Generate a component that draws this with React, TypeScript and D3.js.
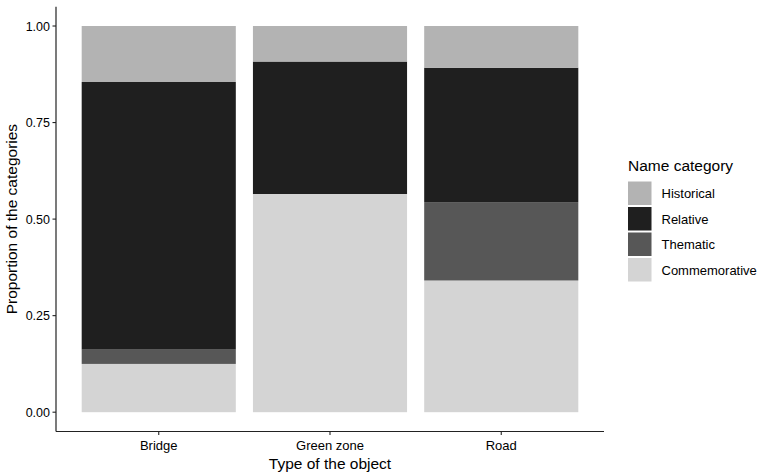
import React from "react";
import * as d3 from "d3";

const categories = ["Bridge", "Green zone", "Road"];
const seriesNames = ["Commemorative", "Thematic", "Relative", "Historical"];
const commemorative = [0.125, 0.565, 0.341];
const thematic = [0.037, 0.0, 0.203];
const relative = [0.693, 0.343, 0.348];
const historical = [0.145, 0.092, 0.108];
const yTicks = [0, 0.25, 0.5, 0.75, 1.0];
const legendOrder = ["Historical", "Relative", "Thematic", "Commemorative"];

const colors: Record<string, string> = {
  Historical: "#b3b3b3",
  Relative: "#1f1f1f",
  Thematic: "#575757",
  Commemorative: "#d4d4d4",
};

const W = 764;
const H = 473;
const FONT = "'Liberation Sans', Arial, Helvetica, sans-serif";

export default function App() {
  const left = 56;
  const right = 604;
  const top = 6.7;
  const bottom = 431.5;

  const rows = categories.map((c, i) => ({
    cat: c,
    Commemorative: commemorative[i],
    Thematic: thematic[i],
    Relative: relative[i],
    Historical: historical[i],
  }));
  const stack = d3.stack<any>().keys(seriesNames)(rows);

  const xl = d3.scaleLinear().domain([0.4, 3.6]).range([left, right]);
  const y = d3.scaleLinear().domain([-0.05, 1.05]).range([bottom, top]);
  const half = xl(1.45) - xl(1);

  return (
    <svg width={W} height={H} style={{ position: "absolute", left: 0, top: 0, background: "#fff" }}>
      <rect x={0} y={0} width={W} height={H} fill="#fff" />
      {stack.map((s) =>
        s.map((d, i) => {
          const cx = xl(i + 1);
          const y0 = y(d[0]);
          const y1 = y(d[1]);
          if (y0 - y1 <= 0) return null;
          return (
            <rect
              key={s.key + i}
              x={cx - half}
              y={y1}
              width={half * 2}
              height={y0 - y1}
              fill={colors[s.key]}
            />
          );
        })
      )}
      <line x1={left} x2={left} y1={top} y2={bottom} stroke="#222" strokeWidth={1.2} />
      <line x1={left} x2={right} y1={bottom} y2={bottom} stroke="#222" strokeWidth={1.2} />
      {yTicks.map((t) => (
        <g key={t}>
          <line x1={left - 3.5} x2={left} y1={y(t)} y2={y(t)} stroke="#222" strokeWidth={1.1} />
          <text x={left - 6} y={y(t) + 4.5} textAnchor="end" fontFamily={FONT} fontSize={12.5} fill="#000">
            {d3.format(".2f")(t)}
          </text>
        </g>
      ))}
      {categories.map((c, i) => (
        <g key={c}>
          <line x1={xl(i + 1)} x2={xl(i + 1)} y1={bottom} y2={bottom + 3.5} stroke="#222" strokeWidth={1.1} />
          <text x={xl(i + 1)} y={bottom + 18.5} textAnchor="middle" fontFamily={FONT} fontSize={13} fill="#000">
            {c}
          </text>
        </g>
      ))}
      <text x={(left + right) / 2} y={469} textAnchor="middle" fontFamily={FONT} fontSize={15.5} fill="#000">
        Type of the object
      </text>
      <text
        transform={`translate(17,${(top + bottom) / 2}) rotate(-90)`}
        textAnchor="middle"
        fontFamily={FONT}
        fontSize={15.5}
        fill="#000"
      >
        Proportion of the categories
      </text>
      <text x={628} y={170.5} fontFamily={FONT} fontSize={15.5} fill="#000">
        Name category
      </text>
      {legendOrder.map((k, i) => (
        <g key={k}>
          <rect x={628} y={181.5 + i * 25.5} width={23.5} height={23.5} fill={colors[k]} />
          <text x={661.5} y={181.5 + i * 25.5 + 16.5} fontFamily={FONT} fontSize={13} fill="#000">
            {k}
          </text>
        </g>
      ))}
    </svg>
  );
}
